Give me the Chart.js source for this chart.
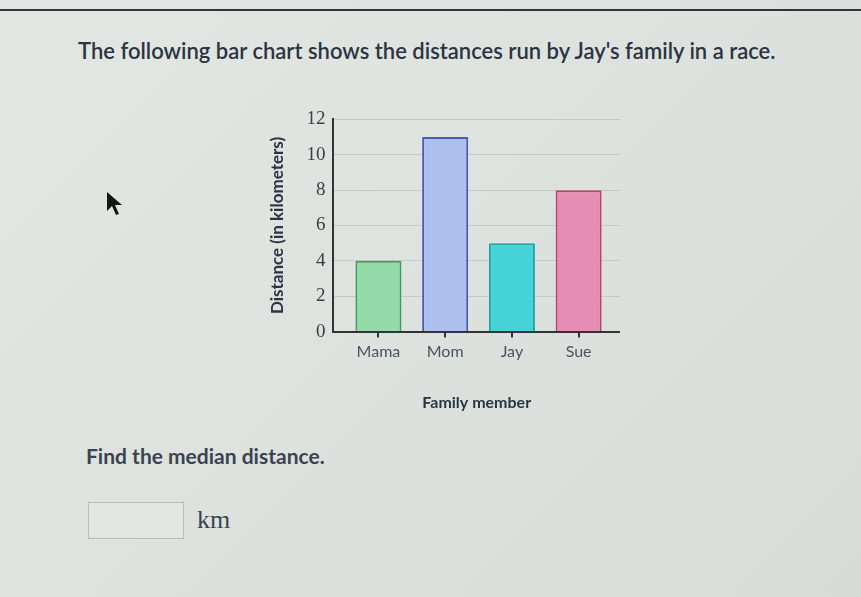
<!DOCTYPE html>
<html><head><meta charset="utf-8">
<script src="https://cdn.jsdelivr.net/npm/chart.js@4"></script>
<style>
html,body{margin:0;padding:0;}
body{width:861px;height:597px;position:relative;overflow:hidden;background:linear-gradient(135deg,#e3e7e4 0%,#dde2df 50%,#d8dcd9 100%);font-family:Lato,"Open Sans",sans-serif;color:#2b3441;}
#topline{position:absolute;left:0;top:9px;width:861px;height:2px;background:#30363c;}
#title{position:absolute;left:78px;top:37px;font-size:22px;font-weight:600;white-space:nowrap;}
#q{position:absolute;left:86px;top:443px;font-size:21px;font-weight:700;color:#3a4350;white-space:nowrap;}
#box{position:absolute;left:88px;top:502px;width:94px;height:35px;border:1px solid #b8bcba;background:#e2e6e3;}
#km{position:absolute;left:197px;top:505px;font-size:26px;font-family:"Liberation Serif","DejaVu Serif",serif;color:#3a4350;}
#wrap{position:absolute;left:267px;top:100px;width:353px;height:316px;}
#cursor{position:absolute;left:106px;top:191px;}
</style></head>
<body>
<div id="topline"></div>
<div id="title">The following bar chart shows the distances run by Jay's family in a race.</div>
<svg id="cursor" width="22" height="30"><path d="M1,1 L1,20 L6,15 L10,24 L13,23 L9,14 L16,14 Z" fill="#151515"/></svg>
<div id="wrap"><canvas id="c"></canvas></div>
<div id="q">Find the median distance.</div>
<div id="box"></div>
<div id="km">km</div>
<script>
const categories = ["Mama","Mom","Jay","Sue"];
const distances = [4, 11, 5, 8];
const fillColors = ["#95dba9","#adbfef","#45d3d8","#e68db4"];
const borderColors = ["#3f9a62","#4b5ba8","#21a2a6","#b8416e"];
const yMax = 12;
new Chart(document.getElementById('c'),{
  type:'bar',
  data:{datasets:[{data:distances.map((v,i)=>({x:i,y:v})),backgroundColor:fillColors,borderColor:borderColors,borderWidth:2,categoryPercentage:1,barPercentage:0.69}]},
  options:{
    responsive:true,maintainAspectRatio:false,animation:false,
    layout:{padding:{left:0,right:0,top:7,bottom:0}},
    plugins:{legend:{display:false},tooltip:{enabled:false}},
    scales:{
      x:{
        type:'linear',min:-0.675,max:3.62,offset:false,
        afterBuildTicks:s=>{s.ticks=categories.map((_,i)=>({value:i}));},
        grid:{display:true,offset:false,drawOnChartArea:false,drawTicks:true,tickLength:6,color:'#333',lineWidth:2},
        border:{display:true,color:'#333',width:2},
        ticks:{color:'#4a5260',font:{family:'Lato',size:16},padding:5,autoSkip:false,maxRotation:0,callback:v=>categories[v]??''},
        title:{display:true,text:'Family member',color:'#2b3441',font:{family:'Lato',size:16,weight:'bold'},padding:{top:26}}
      },
      y:{
        min:0,max:yMax,
        grid:{color:'#c5cac7',lineWidth:1,drawTicks:false},
        border:{display:true,color:'#333',width:2},
        ticks:{stepSize:1,color:'#3a3f45',padding:8,font:{family:'Liberation Serif',size:19},callback:v=>v%2===0?v:''},
        title:{display:true,text:'Distance (in kilometers)',color:'#2b3441',font:{family:'Lato',size:17,weight:'bold'},padding:{top:0,bottom:11}}
      }
    }
  }
});
</script>
</body></html>
